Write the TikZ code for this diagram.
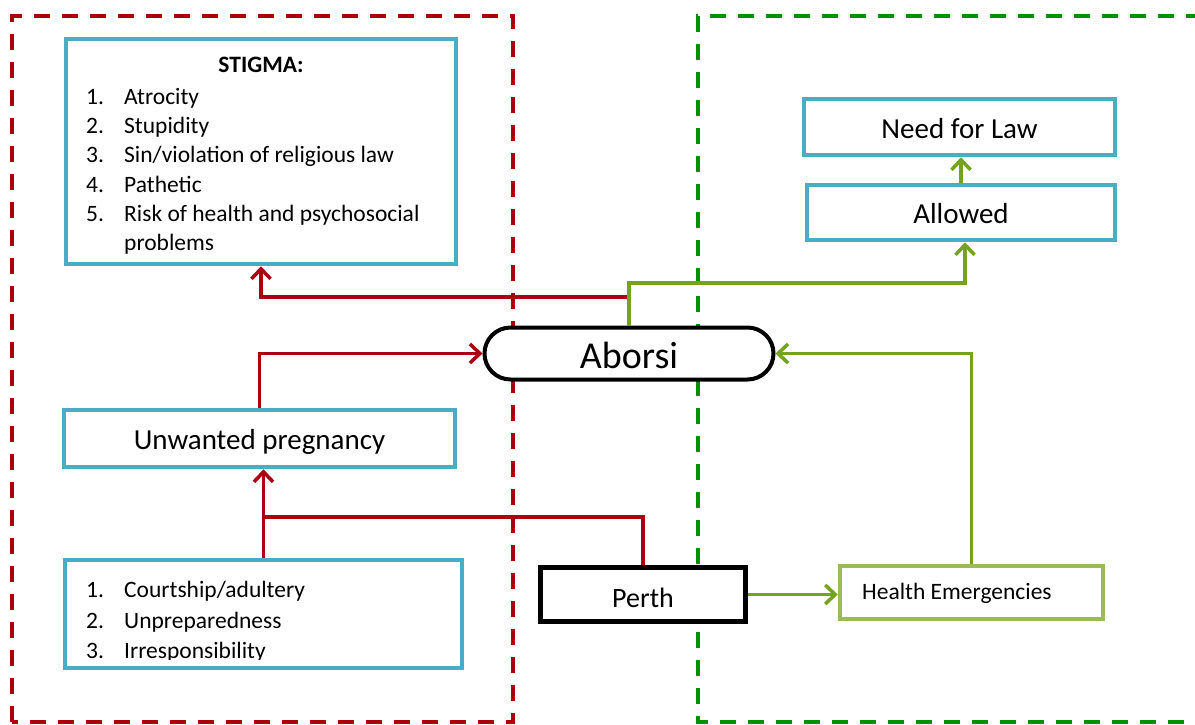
\documentclass[tikz,border=0pt]{standalone}
\usepackage{fontspec}
\setmainfont{Carlito}
\usetikzlibrary{arrows.meta}
\definecolor{boxblue}{RGB}{75,172,198}
\definecolor{linered}{RGB}{170,0,18}
\definecolor{dashred}{RGB}{170,0,10}
\definecolor{dashgreen}{RGB}{0,145,0}
\definecolor{linegreen}{RGB}{118,163,30}
\definecolor{hegreen}{RGB}{155,187,89}
\begin{document}
\begin{tikzpicture}[x=1pt,y=-1pt,
  bluebox/.style={draw=boxblue,line width=4.5pt,rectangle,inner sep=0pt,fill=white},
  bigtxt/.style={font=\fontsize{29}{35}\selectfont,text height=24pt,text depth=2pt},
  lsttxt/.style={font=\fontsize{23.5}{29}\selectfont,anchor=base west,inner sep=0pt},
  redcon/.style={draw=linered,line width=3.5pt,-{Straight Barb[length=10pt,width=19pt]}},
  redplain/.style={draw=linered,line width=3.5pt},
  greencon/.style={draw=linegreen,line width=3.5pt,-{Straight Barb[length=10pt,width=19pt]}},
  greenplain/.style={draw=linegreen,line width=3.5pt},
  dashbox/.style={line width=3.5pt,dash pattern=on 16pt off 12pt}
]
\clip (0,0) rectangle (1195,724);
\fill[white] (0,0) rectangle (1195,724);
% dashed regions
\draw[dashbox,draw=dashred] (12,722) -- (12,16) -- (513,16) -- (513,722) -- cycle;
\draw[dashbox,draw=dashgreen] (1230,16) -- (698,16) -- (698,722) -- (1230,722);
% boxes
\node[bluebox,minimum width=390pt,minimum height=225pt] (stigma) at (261,151.5) {};
\node[draw=black,fill=white,line width=4pt,rounded corners=26pt,minimum width=289pt,minimum height=52pt,inner sep=0pt,
      font=\fontsize{38}{44}\selectfont,text height=31pt,text depth=2pt] (abor) at (629,353.5) {Aborsi};
\node[bluebox,bigtxt,minimum width=391pt,minimum height=57pt] (unw) at (259.5,438.5) {Unwanted pregnancy};
\node[bluebox,minimum width=397pt,minimum height=108pt] (causes) at (263.5,614) {};
\node[draw=black,fill=white,line width=5.5pt,inner sep=0pt,minimum width=205pt,minimum height=54pt,
      font=\fontsize{28}{34}\selectfont,text height=27pt,text depth=2pt] (perth) at (643,594.5) {Perth};
\node[draw=hegreen,fill=white,line width=4.5pt,inner sep=0pt,minimum width=263pt,minimum height=53pt] (health) at (971.5,592.5) {};
\node[bluebox,bigtxt,minimum width=311pt,minimum height=56pt] (need) at (959.5,127) {Need for Law};
\node[bluebox,bigtxt,minimum width=308pt,minimum height=55pt] (allowed) at (961,212.5) {Allowed};
% texts
\node[font=\fontsize{23.5}{29}\selectfont\bfseries,anchor=base,inner sep=0pt] (stitle) at (261,72) {STIGMA:};
\node[lsttxt] (n1) at (86,104) {1.};   \node[lsttxt] (t1) at (124,104) {Atrocity};
\node[lsttxt] (n2) at (86,133) {2.};   \node[lsttxt] (t2) at (124,133) {Stupidity};
\node[lsttxt] (n3) at (86,162) {3.};   \node[lsttxt] (t3) at (124,162) {Sin/violation of religious law};
\node[lsttxt] (n4) at (86,192) {4.};   \node[lsttxt] (t4) at (124,192) {Pathetic};
\node[lsttxt] (n5) at (86,221) {5.};   \node[lsttxt] (t5) at (124,221) {Risk of health and psychosocial};
\node[lsttxt] (t6) at (124,250) {problems};
\begin{scope}
\clip (60,560) rectangle (470,659);
\node[lsttxt] (c1n) at (86,597) {1.};  \node[lsttxt] (c1) at (124,597) {Courtship/adultery};
\node[lsttxt] (c2n) at (86,628) {2.};  \node[lsttxt] (c2) at (124,628) {Unpreparedness};
\node[lsttxt] (c3n) at (86,658) {3.};  \node[lsttxt] (c3) at (124,658) {Irresponsibility};
\end{scope}
\node[font=\fontsize{23.5}{28}\selectfont,anchor=base west,inner sep=0pt] (htxt) at (862,599) {Health Emergencies};
% connectors
\coordinate (j1) at (629,297);
\coordinate (j2) at (263.5,517);
\draw[redcon] (j1) -| (stigma.south);
\draw[greencon] (abor.north) -- (abor.north |- 0,283) -| ([xshift=4pt]allowed.south);
\draw[redcon] (unw.north) |- (abor.west);
\draw[redcon] (causes.north) -- (causes.north |- unw.south);
\draw[redplain] (perth.north) |- (j2);
\draw[greencon] (perth.east) -- (perth.east -| health.west);
\draw[greencon] (health.north) |- (abor.east);
\draw[greencon] (allowed.north) -- (allowed.north |- need.south);
\end{tikzpicture}
\end{document}
